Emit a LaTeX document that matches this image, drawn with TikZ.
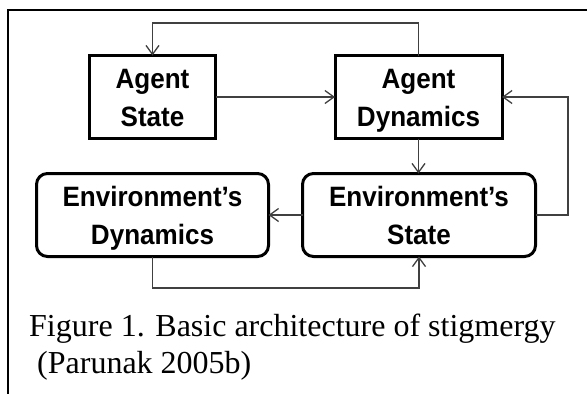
\documentclass[tikz,border=0pt]{standalone}
\usepackage{fontspec}
\setmainfont{Liberation Serif}
\newfontfamily\boxfont[FakeStretch=0.93]{Liberation Sans}
\usetikzlibrary{arrows.meta}

% invisible rule that fixes the line height, so every box centres alike
\newcommand\boxstrut{\rule[-6pt]{0pt}{32pt}}

\tikzset{
  block/.style={draw=black, line width=3pt, fill=white, align=center,
    inner sep=0pt, outer sep=0pt, minimum height=83pt,
    font=\boxfont\bfseries\fontsize{28}{38}\selectfont},
  roundblock/.style={block, rounded corners=11pt},
  link/.style={draw=black!75, line width=1.3pt,
    -{Straight Barb[length=9pt,width=13pt,line width=1.3pt]}},
  frame/.style={draw=black, line width=1.6pt},
}

\begin{document}
\begin{tikzpicture}[x=1pt,y=-1pt]
  \useasboundingbox (0,0) rectangle (587,394);

  % outer frame (top and left edges)
  \draw[frame] (587,10) -- (8,10) -- (8,394);

  % agent side
  \node[block, minimum width=126pt] (as) at (152.5,97)
    {\boxstrut Agent\\\boxstrut State};
  \node[block, minimum width=167pt] (ad) at (418.5,97)
    {\boxstrut Agent\\\boxstrut Dynamics};

  % environment side
  \node[roundblock, minimum width=233pt] (es) at (419,215)
    {\boxstrut Environment’s\\\boxstrut State};
  \node[roundblock, minimum width=232pt] (ed) at (152.5,215)
    {\boxstrut Environment’s\\\boxstrut Dynamics};

  % routing points of the loops
  \coordinate (topy) at (0,23);
  \coordinate (rightx) at (568,0);
  \coordinate (boty) at (0,288);

  % connectors
  \draw[link] (as.east) -- (ad.west);
  \draw[link] (ad.north) -- (ad.north |- topy) -| (as.north);
  \draw[link] (ad.south) -- (ad.south |- es.north);
  \draw[link] (es.east) -- (es.east -| rightx) |- (ad.east);
  \draw[link] (es.west) -- (ed.east);
  \draw[link] (ed.south) -- (ed.south |- boty) -| (es.south);

  % caption (base anchor sits on the last line)
  \node[anchor=base west, align=left, inner sep=0pt,
        font=\fontsize{32}{37}\selectfont] (cap) at (29,373)
    {Figure 1. Basic architecture of stigmergy\\\hspace*{0.25em}(Parunak 2005b)};
\end{tikzpicture}
\end{document}
